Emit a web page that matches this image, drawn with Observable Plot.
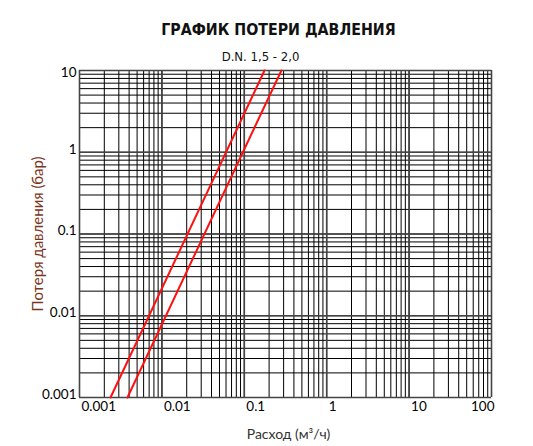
<!DOCTYPE html>
<html>
<head>
<meta charset="utf-8">
<script src="https://cdn.jsdelivr.net/npm/d3@7"></script>
<script src="https://cdn.jsdelivr.net/npm/@observablehq/plot@0.6"></script>
<style>
  html, body { margin: 0; padding: 0; background: #fff; }
  #chart { width: 533px; height: 446px; }
</style>
</head>
<body>
<div id="chart"></div>
<script>
// ---- data ----
const title = "ГРАФИК ПОТЕРИ ДАВЛЕНИЯ";
const subtitle = "D.N. 1,5 - 2,0";
const xLabel = "Расход (м³/ч)";
const yLabel = "Потеря давления (бар)";

const xTicks = [0.001, 0.01, 0.1, 1, 10, 100];
const xTickLabels = ["0.001", "0.01", "0.1", "1", "10", "100"];
const yTicks = [0.001, 0.01, 0.1, 1, 10];
const yTickLabels = ["0.001", "0.01", "0.1", "1", "10"];

// two pressure-loss curves (flow m³/h vs loss bar)
const seriesNames = ["DN 1,5", "DN 2,0"];
const flowA = [0.00238, 0.176];
const lossA = [0.001, 10];
const flowB = [0.00382, 0.282];
const lossB = [0.001, 10];

const curves = [
  ...flowA.map((q, i) => ({series: seriesNames[0], q, p: lossA[i]})),
  ...flowB.map((q, i) => ({series: seriesNames[1], q, p: lossB[i]}))
];

const lastX = xTicks[xTicks.length - 1];
const lastY = yTicks[yTicks.length - 1];
const labelX = d => xTickLabels[xTicks.indexOf(d)];
const labelY = d => yTickLabels[yTicks.indexOf(d)];
const condensed = "'Liberation Sans Narrow', 'DejaVu Sans Condensed', sans-serif";

const chart = Plot.plot({
  width: 533,
  height: 446,
  marginLeft: 79,
  marginRight: 42,
  marginTop: 70,
  marginBottom: 49,
  style: {fontFamily: "Lato, 'Liberation Sans', sans-serif", fontSize: "13px", background: "#fff", color: "#000"},
  x: {type: "log", domain: [xTicks[0], lastX]},
  y: {type: "log", domain: [yTicks[0], lastY]},
  marks: [
    Plot.gridX({ticks: 40, stroke: "#000", strokeOpacity: 1, strokeWidth: 1}),
    Plot.gridY({ticks: 40, stroke: "#000", strokeOpacity: 1, strokeWidth: 1}),
    Plot.gridX({ticks: xTicks, stroke: "#444", strokeOpacity: 1, strokeWidth: 1.6}),
    Plot.gridY({ticks: yTicks, stroke: "#444", strokeOpacity: 1, strokeWidth: 1.6}),
    Plot.line(curves, {x: "q", y: "p", z: "series", stroke: "#ff1010", strokeWidth: 2}),
    Plot.axisX({ticks: xTicks.filter(d => d !== lastX), tickFormat: labelX, tickSize: 0, tickPadding: 4, textAnchor: "start", dx: 2, label: null, fontSize: 13.5}),
    Plot.axisX({ticks: [lastX], tickFormat: labelX, tickSize: 0, tickPadding: 4, textAnchor: "end", dx: 3, label: null, fontSize: 13.5}),
    Plot.axisY({ticks: yTicks.filter(d => d !== lastY), tickFormat: labelY, tickSize: 0, tickPadding: 3, dy: -3, label: null, fontSize: 13.5}),
    Plot.axisY({ticks: [lastY], tickFormat: labelY, tickSize: 0, tickPadding: 3, dy: 2, label: null, fontSize: 13.5}),
    Plot.axisY({ticks: [], label: yLabel, labelAnchor: "center", labelArrow: "none", labelOffset: 47, fontSize: 15, fill: "#7a3520"}),
    Plot.text([xLabel], {text: d => d, frameAnchor: "bottom", dy: 41, dx: 3, fontSize: 14, fill: "#333"}),
    Plot.text([title], {text: d => d, frameAnchor: "top", dy: -47, dx: -7, fontSize: 15.8, fontWeight: "bold",
      fontFamily: condensed, fill: "#111"}),
    Plot.text([subtitle], {text: d => d, frameAnchor: "top", dy: -19, dx: -25, fontSize: 13,
      fontFamily: condensed, fill: "#111"})
  ]
});
document.getElementById("chart").appendChild(chart);
</script>
</body>
</html>
